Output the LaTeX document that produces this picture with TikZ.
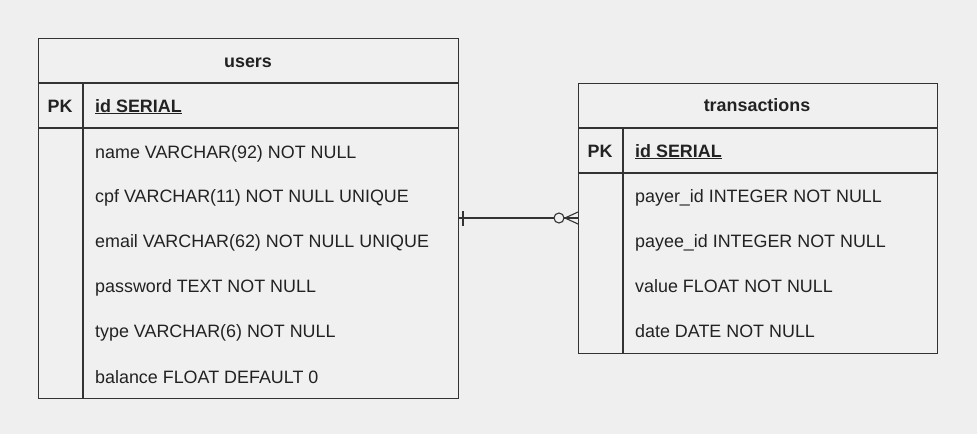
\documentclass[tikz,border=0pt]{standalone}
\usepackage{fontspec}
\setmainfont{Liberation Sans}
\definecolor{bgc}{HTML}{EFEFEF}
\definecolor{tblc}{HTML}{F0F0F0}
\definecolor{linec}{HTML}{333333}
\definecolor{txtc}{HTML}{222222}
\begin{document}
\begin{tikzpicture}[x=1pt,y=-1pt,
  tbl/.style={draw=linec,line width=1.2pt,fill=tblc,anchor=north west,inner sep=0pt},
  sep/.style={draw=linec,line width=1.2pt},
  row/.style={anchor=base west,inner sep=0pt,text=txtc,font=\fontsize{17.9}{20}\selectfont},
  head/.style={anchor=base,inner sep=0pt,text=txtc,font=\fontsize{17.9}{20}\selectfont\bfseries},
  rel/.style={draw=linec,line width=1.1pt}]
\useasboundingbox[fill=bgc] (0,0) rectangle (977,434);
% users table
\node[tbl,minimum width=420pt,minimum height=360pt] (users) at (38,38) {};
\draw[sep] (38,83) -- (458,83);
\draw[sep] (38,128) -- (458,128);
\draw[sep] (83,83) -- (83,398);
\node[head] (uh) at (248,67) {users};
\node[head] (upk) at (60,112) {PK};
\node[row,font=\fontsize{17.9}{20}\selectfont\bfseries] (uid) at (95,112) {\underline{id SERIAL}};
\node[row] (u1) at (95,158) {name VARCHAR(92) NOT NULL};
\node[row] (u2) at (95,202) {cpf VARCHAR(11) NOT NULL UNIQUE};
\node[row] (u3) at (95,247) {email VARCHAR(62) NOT NULL UNIQUE};
\node[row] (u4) at (95,292) {password TEXT NOT NULL};
\node[row] (u5) at (95,337) {type VARCHAR(6) NOT NULL};
\node[row] (u6) at (95,383) {balance FLOAT DEFAULT 0};
% transactions table
\node[tbl,minimum width=359pt,minimum height=270.5pt] (trans) at (578,82.5) {};
\draw[sep] (578,128) -- (937,128);
\draw[sep] (578,173) -- (937,173);
\draw[sep] (623,128) -- (623,353);
\node[head] (th) at (757,111) {transactions};
\node[head] (tpk) at (600,157) {PK};
\node[row,font=\fontsize{17.9}{20}\selectfont\bfseries] (tid) at (635,157) {\underline{id SERIAL}};
\node[row] (t1) at (635,202) {payer\_id INTEGER NOT NULL};
\node[row] (t2) at (635,247) {payee\_id INTEGER NOT NULL};
\node[row] (t3) at (635,292) {value FLOAT NOT NULL};
\node[row] (t4) at (635,337) {date DATE NOT NULL};
% relation
\coordinate (ca) at (458,218);
\coordinate (cb) at (578,218);
\coordinate (cf) at (565,218);
\draw[rel] (ca) -- (cb);
\draw[rel] (463,211) -- (463,226);
\draw[rel] (cf) -- (578,212);
\draw[rel] (cf) -- (578,224);
\node[circle,draw=linec,line width=1.1pt,fill=bgc,minimum size=10pt,inner sep=0pt] (circ) at (559,218) {};
\end{tikzpicture}
\end{document}
